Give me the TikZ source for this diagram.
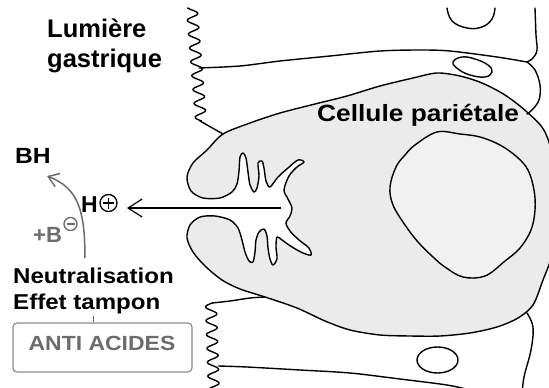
\documentclass[tikz,border=0pt]{standalone}
\usepackage{fontspec}
\setmainfont{Liberation Sans}
\newfontfamily\widefont[FakeStretch=1.12]{Liberation Sans}
\usetikzlibrary{arrows.meta}
\definecolor{cellfill}{HTML}{EBEBEB}
\definecolor{nucfill}{HTML}{F1F1F1}
\definecolor{greyink}{HTML}{6C6C6C}
\definecolor{boxline}{HTML}{8C8C8C}
\begin{document}
\begin{tikzpicture}[x=1pt,y=-1pt,
  outline/.style={line width=1.4pt, line join=round, line cap=round},
  lbl/.style={inner sep=0pt, anchor=base west, font=\bfseries},
  fsize/.style={font=\bfseries\fontsize{#1}{#1}\selectfont},
  wsize/.style={font=\widefont\bfseries\fontsize{#1}{#1}\selectfont},
  charge/.style={circle, draw, inner sep=0pt, line width=1.3pt}]
\useasboundingbox (0,0) rectangle (549,388);
\clip (0,0) rectangle (549,388);

% parietal cell body with its canaliculus
\draw[outline, fill=cellfill] plot[smooth cycle, tension=0.5] coordinates {
 (223,134) (250,123) (280,113) (315,104) (347,96) (380,86) (413,78) (437,73)
 (460,76) (482,83) (505,95) (527,112) (545,132) (556,170) (558,215) (552,255)
 (543,280) (533,305) (518,318) (497,327) (470,333) (440,336) (410,336) (380,335)
 (350,330) (325,321) (297,308) (265,297) (240,289) (222,280) (205,266) (193,252)
 (187,238) (190,225) (200,217) (215,216) (230,220) (238,228) (242,240) (245,252)
 (249,261) (253,262) (255,252) (256,240) (259,232) (264,229) (267,236) (268,248)
 (270,259) (273,265) (277,259) (276,247) (277,237) (282,240) (292,247) (303,253)
 (311,255) (309,248) (299,240) (290,231) (286,223) (290,216) (292,208) (288,199)
 (284,190) (289,176) (297,167) (304,162) (298,160) (288,168) (278,177) (270,187)
 (266,181) (264,168) (262,161) (258,163) (259,176) (257,188) (254,192) (250,185)
 (248,172) (246,158) (243,153) (240,157) (239,171) (237,184) (232,192) (220,198)
 (203,198) (191,191) (187,177) (193,163) (207,150)};

% nucleus
\draw[outline, fill=nucfill] plot[smooth cycle, tension=0.6] coordinates {
 (437,132) (460,134) (480,137) (500,145) (517,157) (528,170) (534,190) (535,210)
 (531,230) (520,248) (505,261) (485,276) (463,277) (445,267) (433,257) (418,242)
 (405,225) (393,205) (390,187) (396,167) (405,155) (415,145)};

% neighbouring cells: folded apical borders
\draw[outline] plot[domain=8:121, samples=160]
  ({192 + 0.0811*(\x-10) + 5.5*sin(26*(\x-10))}, \x);
\draw[outline] (200,121) -- (223,134);
\draw[outline] plot[smooth, tension=0.5] coordinates {
 (199,68) (240,66) (280,61) (330,56) (380,51) (420,50) (450,51) (497,57) (527,62)};
\draw[outline] plot[smooth, tension=0.6] coordinates {
 (535,8) (536,35) (537,50) (533,58) (527,62)};
\draw[outline] plot[smooth, tension=0.6] coordinates {
 (527,62) (535,70) (540,85) (539,100) (532,110) (527,114)};
\draw[outline] plot[smooth, tension=0.7] coordinates {
 (447,8) (452,21) (467,28) (482,27) (492,19) (495,8)};
\draw[outline] plot[smooth cycle, tension=0.7] coordinates {
 (453,62) (462,57) (475,59) (488,65) (492,72) (485,77) (470,75) (458,69)};

\draw[outline] plot[smooth, tension=0.5] coordinates {
 (212,303) (230,301) (250,298) (265,297)};
\draw[outline] plot[domain=303:397, samples=140]
  ({211 + 0.0319*(\x-303) + 5.5*sin(26*(\x-303) + 168)}, \x);
\draw[outline] plot[smooth, tension=0.5] coordinates {
 (218.5,366) (247,367) (300,370) (350,373) (400,379) (447,385) (470,390)};
\draw[outline] plot[smooth, tension=0.6] coordinates {
 (527,313) (533,327) (531,350) (524,377) (522,395)};
\draw[outline] (437.5,360) ellipse[x radius=20.5, y radius=13];

% labels
\node[lbl, fsize=25.5] (lumen1) at (47,37) {Lumière};
\node[lbl, fsize=25.5] (lumen2) at (47,67) {gastrique};
\node[lbl, wsize=23.5] (cell) at (317,121) {Cellule pariétale};

% proton leaving the canaliculus
\coordinate (canal) at (281,208);
\coordinate (tipH) at (127,208);
\draw[line width=1.2pt, -{Straight Barb[length=14pt,width=18pt]}] (canal) -- (tipH);
\node[lbl, fsize=23] (hion) at (81,212) {H};
\node[charge, minimum size=17pt] (hplus) at (108.5,203) {};
\draw[line width=1.6pt] ([xshift=-5.5pt]hplus.center) -- ([xshift=5.5pt]hplus.center);
\draw[line width=1.6pt] ([yshift=-5.5pt]hplus.center) -- ([yshift=5.5pt]hplus.center);

% buffering reaction
\node[lbl, wsize=22] (bh) at (15,163) {BH};
\node[lbl, fsize=22, text=greyink] (base) at (33,242) {+B};
\node[charge, draw=greyink, minimum size=13pt] (bminus) at (70.5,224) {};
\draw[line width=1.6pt, greyink] ([xshift=-4pt]bminus.center) -- ([xshift=4pt]bminus.center);
\coordinate (bfrom) at (85,258);
\coordinate (bto) at (47,176);
\draw[line width=1.5pt, greyink, -{Straight Barb[length=10pt,width=14pt]}]
  (bfrom) .. controls (85,210) and (78,188) .. (bto);

\node[lbl, wsize=21.5] (neutr) at (13,283) {Neutralisation};
\node[lbl, wsize=21.5] (tampon) at (13,309) {Effet tampon};

% antacid box
\node[draw=boxline, line width=1.2pt, rounded corners=4pt, minimum width=179pt,
      minimum height=49pt, inner sep=0pt] (box) at (102.5,347.5) {};
\node[inner sep=0pt, wsize=20.5, text=greyink] (acid) at (102,343.5) {ANTI ACIDES};
\coordinate (tfoot) at (93,316);
\draw[line width=1pt, greyink] (tfoot) -- (tfoot |- box.north);
\end{tikzpicture}
\end{document}
